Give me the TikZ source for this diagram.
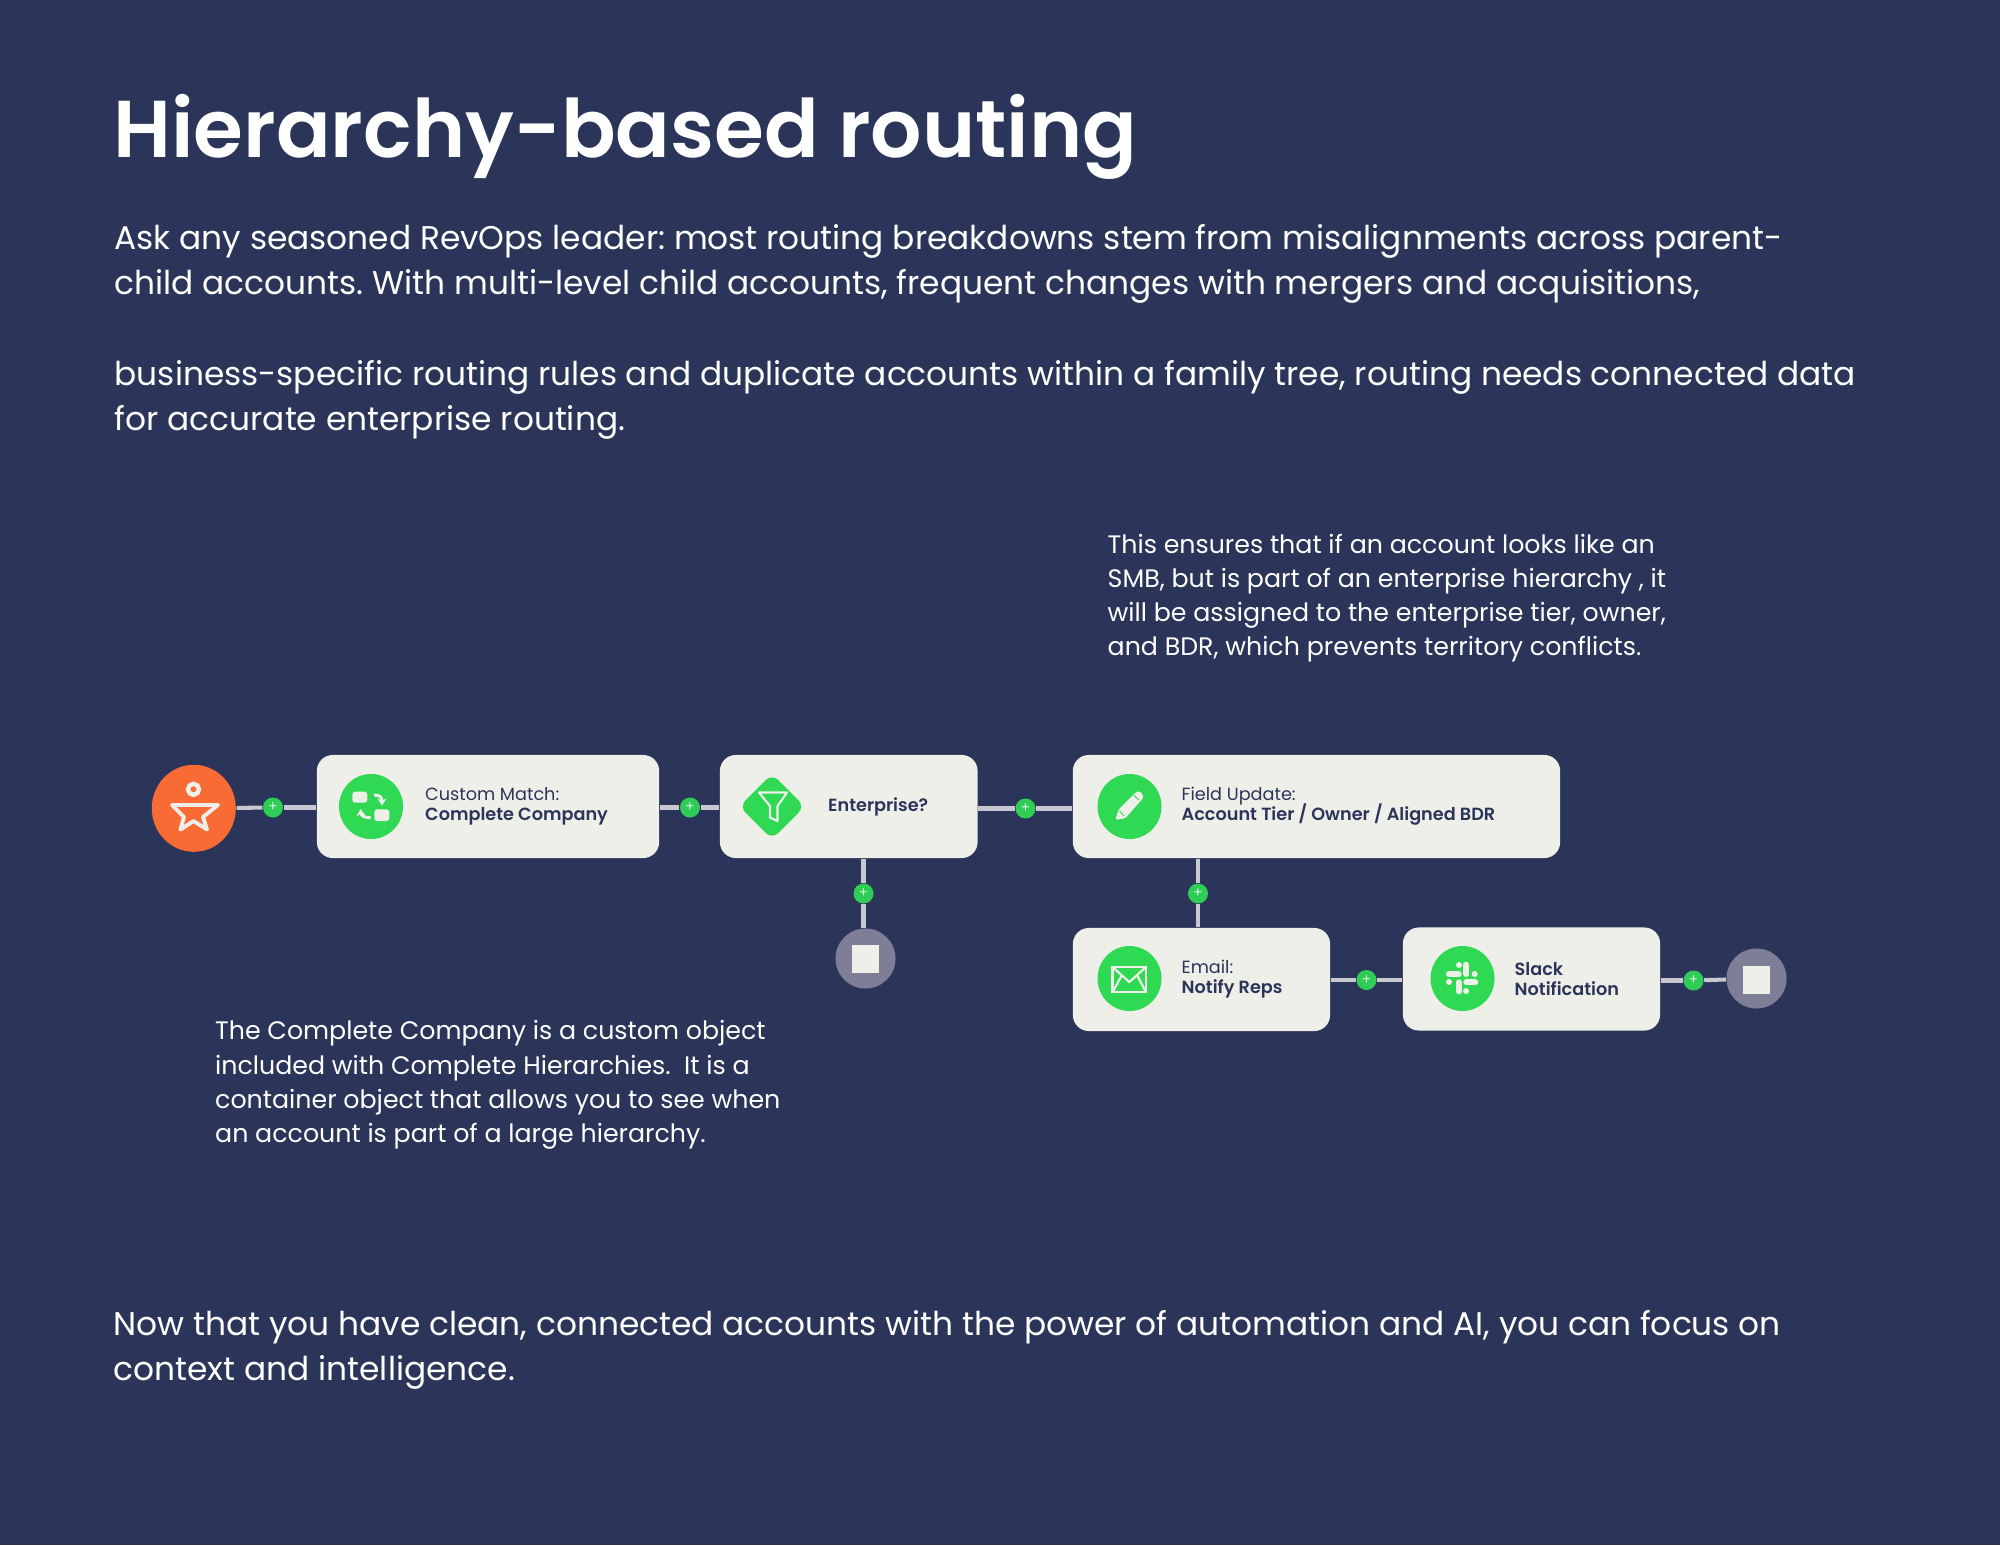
\documentclass[tikz,border=0pt]{standalone}
\usepackage{fontspec}
\usetikzlibrary{shapes.geometric,arrows.meta}
\setmainfont{Poppins}
\newfontfamily\semifont{Poppins SemiBold}
\newfontfamily\lightfont{Poppins Light}
\lineskiplimit=-2pt\relax
\frenchspacing
\definecolor{navybg}{HTML}{2B3559}
\definecolor{cardcol}{HTML}{EFEFEA}
\definecolor{greencol}{HTML}{2FD953}
\definecolor{badgecol}{HTML}{2FCC56}
\definecolor{orangecol}{HTML}{F96B34}
\definecolor{stopcol}{HTML}{7E7E97}
\definecolor{linkcol}{HTML}{C8C8D2}
\tikzset{
	card/.style={draw=none,fill=cardcol,rounded corners=4.5pt,minimum height=1.03cm,inner sep=0},
	round icon/.style={ellipse,fill=greencol,minimum width=0.64cm,minimum height=0.65cm,inner sep=0},
	plusdot/.style={circle,fill=badgecol,minimum size=0.2cm,inner sep=0,text=white,font=\lightfont\fontsize{4}{4}\selectfont},
	stopdot/.style={ellipse,fill=stopcol,minimum width=0.6cm,minimum height=0.6cm,inner sep=0},
	stopsq/.style={fill=cardcol,minimum width=0.275cm,minimum height=0.28cm,inner sep=0},
	link/.style={draw=linkcol,line width=1.15pt},
	cardtext/.style={anchor=west,align=left,inner sep=0,text=navybg,font=\fontsize{5.02}{5.7}\selectfont},
	semitext/.style={cardtext,font=\semifont\fontsize{5.02}{5.7}\selectfont},
	bodytext/.style={anchor=north west,align=left,inner sep=0,text=white,font=\fontsize{9.335}{12.8}\selectfont},
	notetext/.style={anchor=north west,align=left,inner sep=0,text=white,font=\fontsize{7.19}{9.7}\selectfont},
	glyph/.style={draw=cardcol,line width=0.6pt},
	swaparrow/.style={draw=cardcol,line width=0.8pt,-{Stealth[length=2pt,width=2.6pt]}},
	slackpill/.style={draw=cardcol,line width=1.7pt,line cap=round}
}
\begin{document}
\begin{tikzpicture}[x=0.01cm,y=-0.01cm]
	\useasboundingbox[fill=navybg] (0,0) rectangle (2000,1545);
	% texts
	\node[anchor=base west,inner sep=0,text=white,font=\semifont\fontsize{22.93}{24}\selectfont] (title) at (113,157.5) {Hierarchy-based routing};
	\node[bodytext] (para1) at (114,224) {Ask any seasoned RevOps leader: most routing breakdowns stem from misalignments across parent-\\child accounts. With multi-level child accounts, frequent changes with mergers and acquisitions,};
	\node[bodytext] (para2) at (114,360) {business-specific routing rules and duplicate accounts within a family tree, routing needs connected data\\for accurate enterprise routing.};
	\node[bodytext] (para3) at (113,1309.5) {Now that you have clean, connected accounts with the power of automation and AI, you can focus on\\context and intelligence.};
	\node[notetext] (note1) at (1107,533) {This ensures that if an account looks like an\\SMB, but is part of an enterprise hierarchy , it\\will be assigned to the enterprise tier, owner,\\and BDR, which prevents territory conflicts.};
	\node[notetext] (note2) at (214.5,1020) {The Complete Company is a custom object\\included with Complete Hierarchies.\ \ It is a\\container object that allows you to see when\\an account is part of a large hierarchy.};
	% cards
	\node[ellipse,fill=orangecol,minimum width=0.84cm,minimum height=0.87cm,inner sep=0] (start) at (193.8,808.3) {};
	\node[card,minimum width=3.42cm] (match) at (488,806.5) {};
	\node[card,minimum width=2.575cm] (enterprise) at (848.75,806.5) {};
	\node[card,minimum width=4.87cm] (update) at (1316.5,806.5) {};
	\node[card,minimum width=2.57cm] (email) at (1201.5,979.5) {};
	\node[card,minimum width=2.57cm] (slack) at (1531.5,979) {};
	\node[stopdot] (stopa) at (865.5,958.5) {};
	\node[stopsq] (sqa) at (865.5,958.5) {};
	\node[stopdot] (stopb) at (1756.5,978.5) {};
	\node[stopsq] (sqb) at (1756.5,979.5) {};
	% badges
	\node[plusdot] (plusa) at (273,807.5) {+};
	\node[plusdot] (plusb) at (690,807.5) {+};
	\node[plusdot] (plusc) at (1025.5,808.5) {+};
	\node[plusdot] (plusd) at (863.5,893.5) {+};
	\node[plusdot] (pluse) at (1198,893.5) {+};
	\node[plusdot] (plusf) at (1366.5,980) {+};
	\node[plusdot] (plusg) at (1693.5,980.5) {+};
	% connectors
	\draw[link] (start) -- (plusa);
	\draw[link] (plusa) -- (plusa -| match.west);
	\draw[link] (plusb -| match.east) -- (plusb);
	\draw[link] (plusb) -- (plusb -| enterprise.west);
	\draw[link] (plusc -| enterprise.east) -- (plusc);
	\draw[link] (plusc) -- (plusc -| update.west);
	\draw[link] (plusd |- enterprise.south) -- (plusd);
	\draw[link] (plusd) -- (plusd |- stopa.north);
	\draw[link] (pluse |- update.south) -- (pluse);
	\draw[link] (pluse) -- (pluse |- email.north);
	\draw[link] (plusf -| email.east) -- (plusf);
	\draw[link] (plusf) -- (plusf -| slack.west);
	\draw[link] (plusg -| slack.east) -- (plusg);
	\draw[link] (plusg) -- (stopb);
	% card labels
	\node[cardtext] (matchtext) at (424.5,806.5) {Custom Match:\\{\semifont Complete Company}};
	\node[semitext] (enttext) at (827.5,807) {Enterprise?};
	\node[cardtext] (updatetext) at (1181,806.5) {Field Update:\\{\semifont Account Tier / Owner / Aligned BDR}};
	\node[cardtext] (emailtext) at (1181,979) {Email:\\{\semifont Notify Reps}};
	\node[semitext] (slacktext) at (1514,979) {Slack\\Notification};
	% icons
	\node[round icon] (iconmatch) at (371,806.5) {};
	\node[diamond,fill=greencol,minimum size=0.66cm,rounded corners=2.5pt,inner sep=0] (iconent) at (772,806.5) {};
	\node[round icon] (iconupdate) at (1129.5,806.5) {};
	\node[round icon] (iconemail) at (1129.5,978.5) {};
	\node[round icon] (iconslack) at (1462.5,978.5) {};
	% start figure
	\draw[draw=cardcol,line width=1.25pt] (193.5,789.3) circle (5.5);
	\draw[draw=cardcol,line width=1.1pt,line join=round] (172,805) -- (218,805) -- (203,817) -- (207,829.5) -- (193.5,821) -- (180.5,829.5) -- (184,817) -- cycle;
	% swap
	\fill[cardcol,rounded corners=0.8pt] (352.3,791.7) rectangle (367.3,802.7);
	\fill[cardcol,rounded corners=0.8pt] (374.3,809.3) rectangle (389.3,821);
	\draw[swaparrow] (374,795) .. controls (379,795) and (382,796.5) .. (382,805.5);
	\draw[swaparrow] (370.7,817.7) .. controls (365,817.7) and (361,816) .. (360.7,809);
	% funnel
	\draw[glyph,line join=round] (759,792.5) -- (787,792.5) -- (777.5,806) -- (777.5,821) -- (770,817.5) -- (770,806) -- cycle;
	% pencil
	\fill[cardcol,rounded corners=0.5pt] (1115.3,820) -- (1118.7,809.3) -- (1136,792) -- (1140,791) -- (1144,797) -- (1125.3,818.3) -- cycle;
	\draw[draw=greencol,line width=0.25pt] (1119.5,811) -- (1124,816);
	\draw[draw=greencol,line width=0.25pt] (1133.7,795) -- (1138.7,800);
	% envelope
	\draw[glyph] (1112.5,967) rectangle (1146,992.3);
	\draw[glyph] (1112.5,967) -- (1129.3,982) -- (1146,967);
	\draw[glyph] (1112.5,992.3) -- (1122,975);
	\draw[glyph] (1146,992.3) -- (1137,975);
	% slack logo
	\draw[slackpill] (1449,974) -- (1458.7,974);
	\draw[slackpill] (1466.3,964.7) -- (1466.3,974);
	\draw[slackpill] (1466.3,982.3) -- (1475.3,982.3);
	\draw[slackpill] (1458.7,982.3) -- (1458.7,991.3);
	\fill[cardcol] (1459,965) circle (3);
	\fill[cardcol] (1474.7,974) circle (3);
	\fill[cardcol] (1466,991) circle (3);
	\fill[cardcol] (1449,982) circle (3);
\end{tikzpicture}
\end{document}
